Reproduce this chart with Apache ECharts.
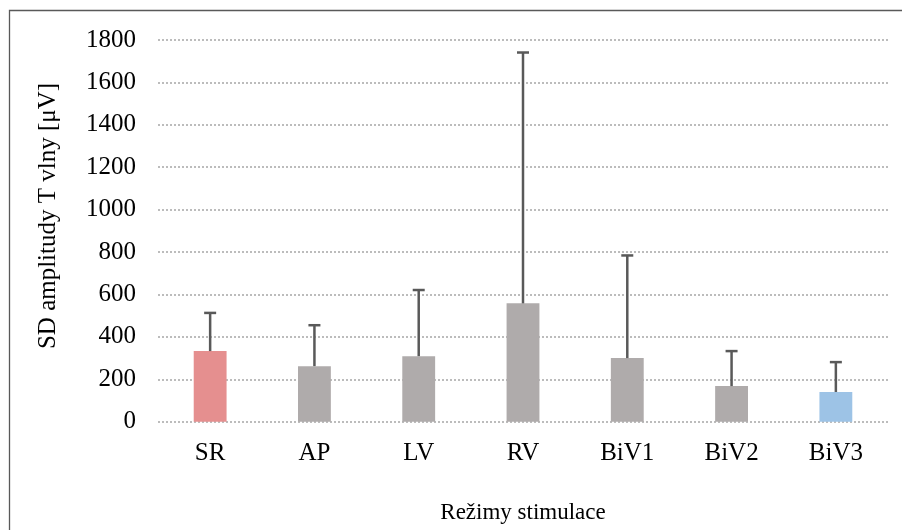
<!DOCTYPE html>
<html>
<head>
<meta charset="utf-8">
<script src="https://cdn.jsdelivr.net/npm/echarts@6/dist/echarts.min.js"></script>
<style>
html,body{margin:0;padding:0;background:#fff;}
#chart{width:902px;height:530px;}
</style>
</head>
<body>
<div id="chart"></div>
<script>
const categories = ['SR', 'AP', 'LV', 'RV', 'BiV1', 'BiV2', 'BiV3'];
const means = [333, 262, 309, 558, 300, 168, 140];
const upperErrors = [513, 455, 621, 1741, 784, 333, 281];
const barColors = ['#E58F8F', '#AFABAB', '#AFABAB', '#AFABAB', '#AFABAB', '#AFABAB', '#9DC3E6'];
const yTicks = [0, 200, 400, 600, 800, 1000, 1200, 1400, 1600, 1800];
const yTitle = 'SD amplitudy T vlny [μV]';
const xTitle = 'Režimy stimulace';

const FONT = 'Liberation Serif';
const chart = echarts.init(document.getElementById('chart'), null, {renderer: 'canvas'});

const errData = categories.map((c, i) => [i, means[i], upperErrors[i]]);

chart.setOption({
  animation: false,
  backgroundColor: '#fff',
  graphic: [{
    type: 'rect',
    shape: {x: 9.5, y: 10.5, width: 900, height: 540},
    style: {fill: 'none', stroke: '#595959', lineWidth: 1.3},
    silent: true
  }, {
    type: 'text',
    x: 48, y: 216,
    rotation: Math.PI / 2,
    style: {text: yTitle, fill: '#000', font: '25px "Liberation Serif"', align: 'center', verticalAlign: 'middle'},
    silent: true
  }],
  grid: {left: 158, right: 14, top: 40, bottom: 108.3, containLabel: false},
  xAxis: {
    type: 'category',
    data: categories,
    axisLine: {show: false},
    axisTick: {show: false},
    axisLabel: {color: '#000', fontFamily: FONT, fontSize: 25, margin: 19},
    name: xTitle,
    nameLocation: 'middle',
    nameGap: 80,
    nameTextStyle: {color: '#000', fontFamily: FONT, fontSize: 23}
  },
  yAxis: {
    type: 'value',
    min: yTicks[0],
    max: yTicks[yTicks.length - 1],
    interval: 200,
    axisLine: {show: false},
    axisTick: {show: false},
    axisLabel: {color: '#000', fontFamily: FONT, fontSize: 25, margin: 22, formatter: function (v) { return String(v); }},
    splitLine: {lineStyle: {color: '#A6A6A6', type: [2, 2], width: 1.5}}
  },
  series: [{
    type: 'bar',
    data: means.map((v, i) => ({value: v, itemStyle: {color: barColors[i]}})),
    barWidth: '31.5%',
    z: 2
  }, {
    type: 'custom',
    data: errData,
    z: 3,
    renderItem: function (params, api) {
      const x = api.value(0);
      const lo = api.coord([x, api.value(1)]);
      const hi = api.coord([x, api.value(2)]);
      const half = 6;
      const st = {stroke: '#595959', lineWidth: 2.5};
      return {
        type: 'group',
        children: [
          {type: 'line', shape: {x1: lo[0], y1: lo[1], x2: hi[0], y2: hi[1]}, style: st},
          {type: 'line', shape: {x1: hi[0] - half, y1: hi[1], x2: hi[0] + half, y2: hi[1]}, style: st}
        ]
      };
    }
  }]
});
</script>
</body>
</html>
